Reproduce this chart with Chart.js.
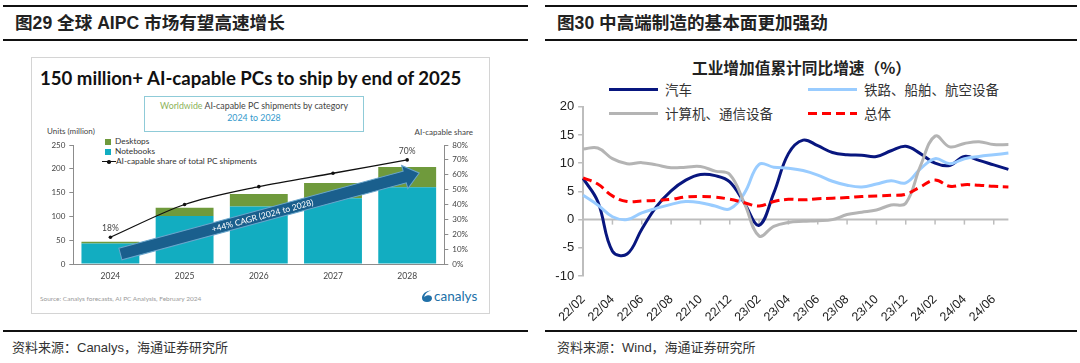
<!DOCTYPE html>
<html lang="zh">
<head>
<meta charset="utf-8">
<script src="https://cdn.jsdelivr.net/npm/chart.js@4.4.1/dist/chart.umd.min.js"></script>
<style>
  body { margin: 0; width: 1080px; height: 363px; background: #fff; position: relative; overflow: hidden;
         font-family: "Liberation Sans", "Noto Sans CJK SC", sans-serif; color: #222; }
  .abs { position: absolute; white-space: nowrap; }
  .rule { position: absolute; height: 2px; background: #111; }
  .fig-title { position: absolute; top: 12px; font-size: 17.6px; font-weight: bold; line-height: 22px; }
  .source { position: absolute; top: 339px; font-size: 13px; color: #333; line-height: 18px; }
  #canalysBox { position: absolute; left: 31px; top: 57px; width: 457px; height: 255px; border: 1px solid #d4d4d4; }
  .lato { font-family: "Lato", sans-serif; }
  .sq { position: absolute; width: 6px; height: 6px; }
  .lg-item { position: absolute; height: 18px; line-height: 18px; font-size: 13.5px; color: #333;
             font-family: "Noto Sans CJK SC", sans-serif; white-space: nowrap; }
  .lg-line { position: absolute; left: 0; top: 7.5px; width: 49px; height: 3px; }
  canvas { position: absolute; }
</style>
</head>
<body>
<!-- 标题与分隔线 -->
<div class="rule" style="left:3px; top:5px; width:525px;"></div>
<div class="rule" style="left:3px; top:39px; width:525px;"></div>
<div class="rule" style="left:545px; top:5px; width:532px;"></div>
<div class="rule" style="left:545px; top:39px; width:532px;"></div>
<div class="fig-title" style="left:15px;">图29 全球 AIPC 市场有望高速增长</div>
<div class="fig-title" style="left:557px;">图30 中高端制造的基本面更加强劲</div>
<div class="rule" style="left:3px; top:330px; width:525px;"></div>
<div class="rule" style="left:545px; top:330px; width:532px;"></div>
<div class="source" style="left:12px;">资料来源：Canalys，海通证券研究所</div>
<div class="source" style="left:557px;">资料来源：Wind，海通证券研究所</div>

<!-- 左图 Canalys -->
<div id="canalysBox"></div>
<div class="abs lato" style="left:40px; top:65px; font-size:18.6px; font-weight:bold; color:#111; line-height:26px;">150 million+ AI-capable PCs to ship by end of 2025</div>
<div class="abs lato" style="left:144px; top:96px; width:218px; height:31px; border:1px solid #8fcbd8; text-align:center; font-size:8.8px; line-height:12px; padding-top:3px;">
  <span style="color:#8db35a;">Worldwide</span> <span style="color:#444;">AI-capable PC shipments by category</span><br>
  <span style="color:#3399cc;">2024 to 2028</span>
</div>
<div class="abs lato" style="left:47px; top:126px; font-size:8px; color:#444;">Units (million)</div>
<div class="abs lato" style="right:607px; top:127px; font-size:8px; color:#444;">AI-capable share</div>
<div id="pcLegend"></div>
<div class="abs lato" style="left:40px; top:295px; font-size:6.5px; color:#9a9a9a;">Source: Canalys forecasts, AI PC Analysis, February 2024</div>
<div class="abs" style="left:421px; top:289px;">
  <svg width="12" height="14" viewBox="0 0 12 14"><path d="M10 1.5 C5 1.8 1 5 1 9 C1 11.6 3 13 6 13 C9 13 11 11.2 11 9.2 C11 7.2 9.3 6 7 6.2 C5.4 6.4 4 7.2 3.1 8.2 C3.6 5 6.4 2.6 10 1.5 Z" fill="#2070a8"/></svg>
</div>
<div class="abs lato" style="left:434px; top:287px; font-size:13.5px; color:#2070a8; line-height:18px;">canalys</div>
<canvas id="pcChart" width="458" height="150" style="left:31px; top:135px;"></canvas>

<!-- 右图 工业增加值 -->
<div class="abs" style="left:692px; top:58px; font-size:15.7px; font-weight:bold; font-family:'Noto Sans CJK SC',sans-serif; line-height:20px;">工业增加值累计同比增速（%）</div>
<div id="ivaLegend"></div>
<canvas id="ivaChart" width="490" height="236" style="left:545px; top:95px;"></canvas>

<script>
// 左图：全球 AI-capable PC 出货（百万台）
const years = ["2024", "2025", "2026", "2027", "2028"];
const notebooks = [43, 101, 121, 138, 161];
const desktops = [4, 17, 26, 32, 43];
const aiShare = [18, 40, 52, 61, 70];

// 右图：工业增加值累计同比（%）
const months = [
    "22/02", "22/03", "22/04", "22/05", "22/06", "22/07", "22/08", "22/09", "22/10", "22/11", "22/12",
    "23/01", "23/02", "23/03", "23/04", "23/05", "23/06", "23/07", "23/08", "23/09", "23/10", "23/11", "23/12",
    "24/01", "24/02", "24/03", "24/04", "24/05", "24/06", "24/07",
];
const qiche = [7.3, 3.2, -5.6, -6.1, -1.7, 2.3, 5.1, 7.0, 8.0, 7.8, 6.7, 2.9, -1.0, 4.7, 11.7,
    14.1, 13.1, 11.9, 11.5, 11.4, 11.2, 12.2, 13.0, 11.7, 10.0, 9.6, 11.2, 10.5, 9.7, 8.9];
const tielu = [4.3, 2.6, 0.5, 0.0, 1.2, 2.0, 2.7, 3.2, 3.0, 2.4, 1.9, 4.7, 9.8, 9.3, 9.1,
    8.7, 7.9, 6.8, 6.1, 5.8, 6.3, 6.9, 6.5, 9.0, 10.8, 9.9, 10.8, 11.2, 11.5, 11.8];
const jisuanji = [12.5, 12.7, 10.8, 9.9, 10.1, 9.7, 9.2, 9.3, 9.4, 8.6, 8.0, 2.9, -2.9, -1.2, -0.5,
    -0.3, -0.2, 0.0, 0.9, 1.3, 1.7, 2.6, 2.9, 9.5, 14.8, 12.9, 13.5, 13.8, 13.3, 13.3];
const zongti = [7.4, 6.3, 4.2, 3.2, 3.3, 3.4, 3.6, 4.0, 4.1, 4.0, 3.6, 3.0, 2.4, 3.2, 3.6,
    3.5, 3.7, 3.8, 3.9, 4.1, 4.2, 4.3, 4.5, 5.8, 7.0, 5.9, 6.2, 6.1, 5.9, 5.8];
const seriesNames = ["汽车", "铁路、船舶、航空设备", "计算机、通信设备", "总体"];
const lineColors = ["#08167f", "#99ccff", "#b4b4b4", "#ff0000"];

const pcColors = { notebooks: "#12adc1", desktops: "#6f9a3c" };

// 箭头 +44% CAGR
const arrowPlugin = {
    id: "cagrArrow",
    afterDatasetsDraw(chart) {
        const { ctx, scales: { x, y } } = chart;
        const x0 = x.getPixelForValue(0) + 10, y0 = y.getPixelForValue(21);
        const x1 = x.getPixelForValue(4) + 12, y1 = y.getPixelForValue(191);
        const ang = Math.atan2(y1 - y0, x1 - x0);
        const len = Math.hypot(x1 - x0, y1 - y0);
        const head = 15;
        ctx.save();
        ctx.translate(x0, y0);
        ctx.rotate(ang);
        ctx.beginPath();
        ctx.moveTo(0, -6);
        ctx.lineTo(len - head, -6);
        ctx.lineTo(len - head, -12);
        ctx.lineTo(len, 0);
        ctx.lineTo(len - head, 12);
        ctx.lineTo(len - head, 6);
        ctx.lineTo(0, 6);
        ctx.closePath();
        ctx.fillStyle = "#1a5f8d";
        ctx.fill();
        ctx.strokeStyle = "#6aa6cc";
        ctx.lineWidth = 1;
        ctx.stroke();
        ctx.fillStyle = "#fff";
        ctx.font = "8.5px Lato";
        ctx.textAlign = "center";
        ctx.textBaseline = "middle";
        ctx.fillText("+44% CAGR (2024 to 2028)", (len - head) / 2, 0.5);
        ctx.restore();
    },
};

// 首末占比标签
const shareLabels = {
    id: "shareLabels",
    afterDatasetsDraw(chart) {
        const meta = chart.getDatasetMeta(2);
        const ctx = chart.ctx;
        ctx.save();
        ctx.font = "8.5px Lato";
        ctx.fillStyle = "#444";
        ctx.textAlign = "center";
        ctx.textBaseline = "middle";
        [0, aiShare.length - 1].forEach((i) => {
            const p = meta.data[i];
            ctx.fillText(aiShare[i] + "%", p.x, p.y - 9);
        });
        ctx.restore();
    },
};

new Chart(document.getElementById("pcChart"), {
    type: "bar",
    data: {
        labels: years,
        datasets: [
            {
                label: "Notebooks", data: notebooks, backgroundColor: pcColors.notebooks,
                stack: "pc", order: 2, barPercentage: 0.78, categoryPercentage: 1,
            },
            {
                label: "Desktops", data: desktops, backgroundColor: pcColors.desktops,
                stack: "pc", order: 2, barPercentage: 0.78, categoryPercentage: 1,
            },
            {
                type: "line", label: "AI-capable share of total PC shipments", data: aiShare,
                yAxisID: "y2", borderColor: "#111", borderWidth: 1.3, pointRadius: 1.8,
                pointBackgroundColor: "#111", pointBorderWidth: 0, tension: 0.3, order: 0,
            },
        ],
    },
    options: {
        responsive: false,
        animation: false,
        layout: { padding: { top: 10, left: 0, right: 0, bottom: 0 } },
        plugins: { legend: { display: false }, tooltip: { enabled: false } },
        scales: {
            x: {
                stacked: true,
                grid: { display: false, drawTicks: false },
                border: { color: "#8c8c8c" },
                ticks: { color: "#444", font: { family: "Lato", size: 8.5 }, padding: 7 },
                afterFit: (s) => { s.height = 21; },
            },
            y: {
                stacked: true, min: 0, max: 250,
                ticks: { stepSize: 50, color: "#444", font: { family: "Lato", size: 8 }, padding: 4 },
                grid: { drawOnChartArea: false, tickLength: 4, color: "#8c8c8c" },
                border: { color: "#8c8c8c" },
                afterFit: (s) => { s.width = 42.3; },
            },
            y2: {
                position: "right", min: 0, max: 80,
                ticks: { stepSize: 10, color: "#444", font: { family: "Lato", size: 8 }, padding: 4,
                         callback: (v) => v + "%" },
                grid: { drawOnChartArea: false, tickLength: 4, color: "#8c8c8c" },
                border: { color: "#8c8c8c" },
                afterFit: (s) => { s.width = 44.7; },
            },
        },
    },
    plugins: [arrowPlugin, shareLabels],
});

// 左图图例
const pcLegend = document.getElementById("pcLegend");
pcLegend.innerHTML =
    '<div class="sq" style="left:105px; top:139px; background:' + pcColors.desktops + '"></div>' +
    '<div class="abs lato" style="left:115px; top:136px; font-size:8.3px; color:#333;">Desktops</div>' +
    '<div class="sq" style="left:105px; top:148.5px; background:' + pcColors.notebooks + '"></div>' +
    '<div class="abs lato" style="left:115px; top:145.5px; font-size:8.3px; color:#333;">Notebooks</div>' +
    '<div class="abs" style="left:102px; top:161px; width:14px; height:1.3px; background:#111;"></div>' +
    '<div class="abs" style="left:107px; top:160px; width:3.5px; height:3.5px; border-radius:50%; background:#111;"></div>' +
    '<div class="abs lato" style="left:116px; top:155.5px; font-size:8.3px; color:#333;">AI-capable share of total PC shipments</div>';

// 右图：零轴与刻度
const zeroAxis = {
    id: "zeroAxis",
    beforeDatasetsDraw(chart) {
        const { ctx, chartArea, scales } = chart;
        const y0 = scales.y.getPixelForValue(0);
        ctx.save();
        ctx.strokeStyle = "#bdbdbd";
        ctx.lineWidth = 2;
        ctx.beginPath();
        ctx.moveTo(chartArea.left, y0);
        ctx.lineTo(chartArea.right, y0);
        ctx.stroke();
        ctx.lineWidth = 1.5;
        months.forEach((m, i) => {
            if (i % 2 !== 0 || i === 0) return;
            const x = scales.x.getPixelForValue(i);
            ctx.beginPath();
            ctx.moveTo(x, y0);
            ctx.lineTo(x, y0 + 5);
            ctx.stroke();
        });
        ctx.restore();
    },
};

new Chart(document.getElementById("ivaChart"), {
    type: "line",
    data: {
        labels: months,
        datasets: [qiche, tielu, jisuanji, zongti].map((d, i) => ({
            label: seriesNames[i],
            data: d,
            borderColor: lineColors[i],
            borderWidth: 3,
            borderDash: i === 3 ? [9, 5] : [],
            pointRadius: 0,
            tension: 0.4,
            fill: false,
            order: 4 - i,
        })),
    },
    options: {
        responsive: false,
        animation: false,
        layout: { padding: { top: 9.3, right: 8, left: 0, bottom: 0 } },
        plugins: { legend: { display: false }, tooltip: { enabled: false } },
        scales: {
            x: {
                grid: { display: false, drawTicks: false },
                border: { display: false },
                ticks: {
                    autoSkip: false, minRotation: 45, maxRotation: 45, padding: 16, color: "#222",
                    font: { family: "Liberation Sans", size: 12.5 },
                    callback: (v, i) => (i % 2 === 0 ? months[i] : ""),
                },
                afterFit: (s) => { s.height = 55; },
            },
            y: {
                min: -10, max: 20,
                ticks: { stepSize: 5, color: "#222", font: { family: "Liberation Sans", size: 13 }, padding: 4 },
                grid: { drawOnChartArea: false, tickLength: 5, color: "#bdbdbd", lineWidth: 1.5 },
                border: { color: "#bdbdbd", width: 2 },
                afterFit: (s) => { s.width = 37.3; },
            },
        },
    },
    plugins: [zeroAxis],
});

// 右图图例
const ivaLegend = document.getElementById("ivaLegend");
seriesNames.forEach((name, i) => {
    const item = document.createElement("div");
    item.className = "lg-item";
    item.style.left = (i % 2 === 0 ? 609 : 808) + "px";
    item.style.top = (i < 2 ? 80 : 104) + "px";
    const line = document.createElement("div");
    line.className = "lg-line";
    line.style.background = i === 3
        ? "repeating-linear-gradient(90deg," + lineColors[i] + " 0 9px, transparent 9px 14px)"
        : lineColors[i];
    const text = document.createElement("span");
    text.textContent = name;
    text.style.marginLeft = "56px";
    item.appendChild(line);
    item.appendChild(text);
    ivaLegend.appendChild(item);
});
</script>
</body>
</html>
